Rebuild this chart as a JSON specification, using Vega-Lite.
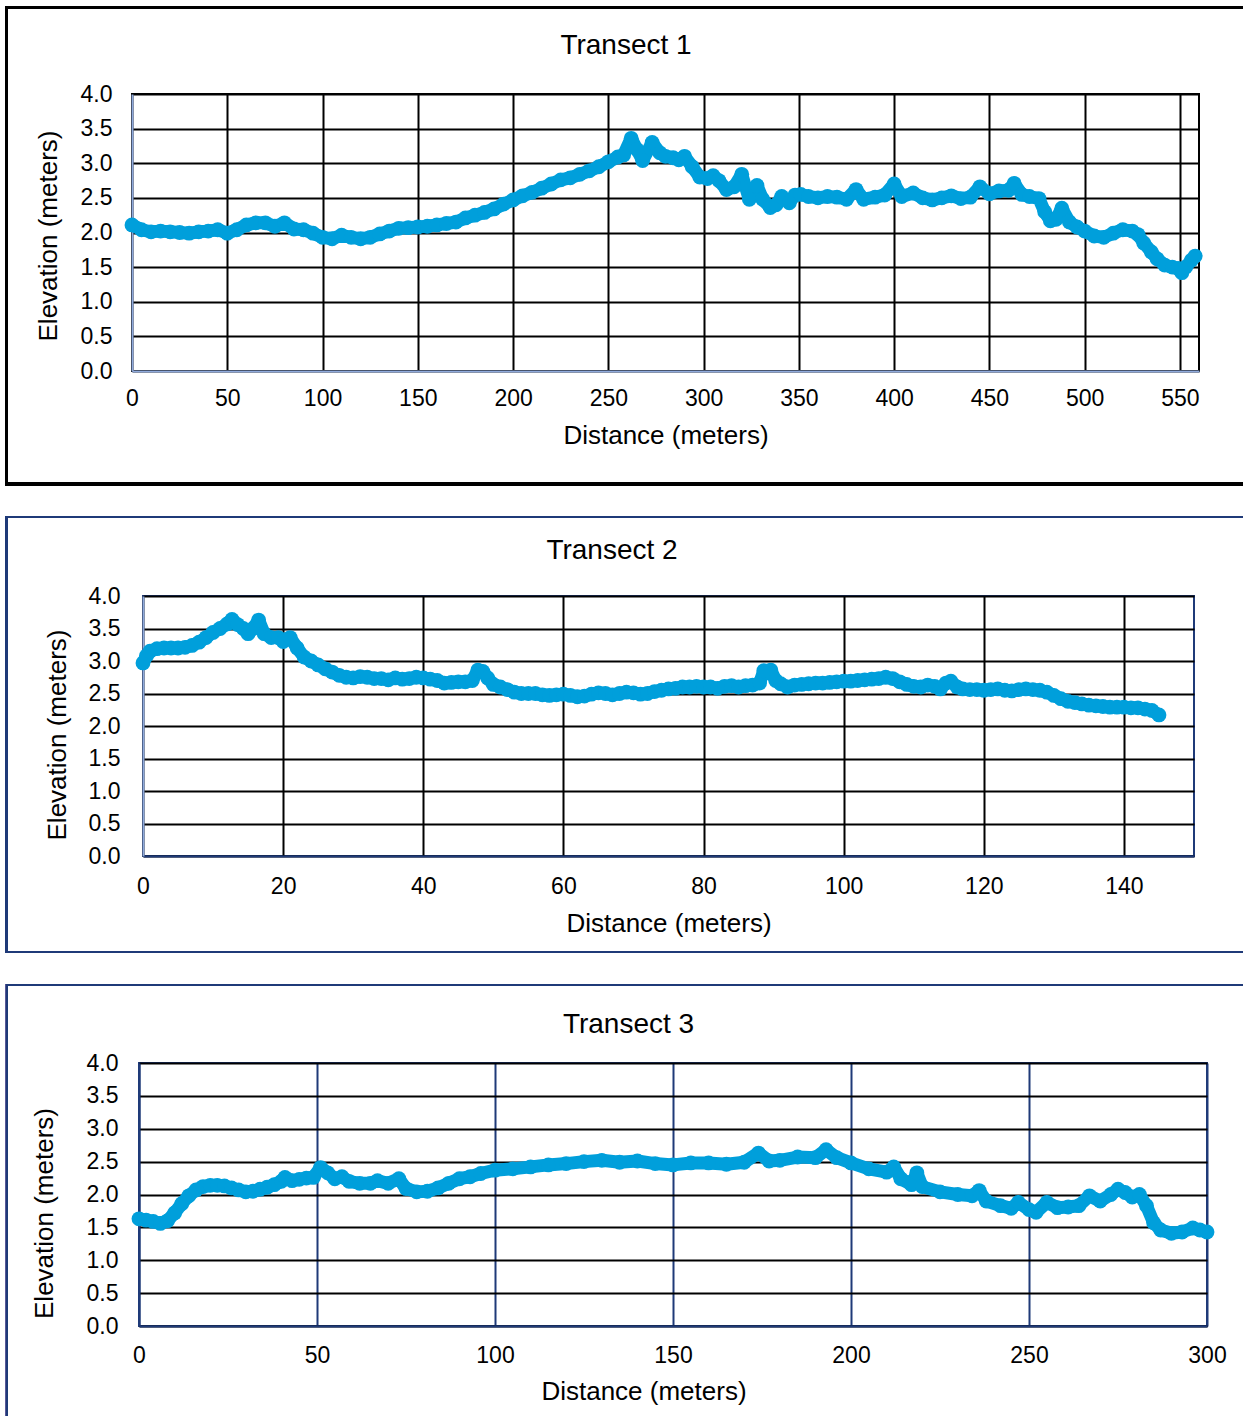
{
  "$schema": "https://vega.github.io/schema/vega-lite/v6.json",
  "background": "white",
  "padding": {"left": 3, "top": 5, "right": 0, "bottom": 0},
  "config": {
    "font": "Liberation Sans",
    "view": {"stroke": null},
    "axis": {
      "labelFont": "Liberation Sans", "labelFontSize": 23, "labelColor": "#000000",
      "titleFont": "Liberation Sans", "titleFontSize": 26, "titleFontWeight": "normal", "titleColor": "#000000",
      "ticks": false, "tickSize": 0, "labelFlush": false, "labelOverlap": false,
      "grid": true, "gridColor": "#000000", "gridWidth": 2, "gridOpacity": 1,
      "domain": true, "domainWidth": 2
    }
  },
  "datasets": {
    "t1": [
      {"d":0,"e":2.11},{"d":5,"e":2.04},{"d":10,"e":2.01},{"d":15,"e":2.02},{"d":20,"e":2.01},{"d":25,"e":2.0},{"d":30,"e":1.99},{"d":35,"e":2.01},{"d":40,"e":2.02},{"d":45,"e":2.04},{"d":50,"e":1.99},{"d":55,"e":2.04},{"d":60,"e":2.11},{"d":65,"e":2.14},{"d":70,"e":2.14},{"d":75,"e":2.09},{"d":80,"e":2.14},{"d":85,"e":2.05},{"d":90,"e":2.04},{"d":95,"e":1.99},{"d":100,"e":1.93},{"d":105,"e":1.91},{"d":110,"e":1.96},{"d":115,"e":1.93},{"d":120,"e":1.91},{"d":125,"e":1.93},{"d":130,"e":1.98},{"d":135,"e":2.02},{"d":140,"e":2.06},{"d":145,"e":2.07},{"d":150,"e":2.08},{"d":155,"e":2.09},{"d":160,"e":2.11},{"d":165,"e":2.13},{"d":170,"e":2.15},{"d":175,"e":2.21},{"d":180,"e":2.25},{"d":185,"e":2.29},{"d":190,"e":2.34},{"d":195,"e":2.41},{"d":200,"e":2.47},{"d":205,"e":2.53},{"d":210,"e":2.58},{"d":215,"e":2.64},{"d":220,"e":2.7},{"d":225,"e":2.76},{"d":230,"e":2.79},{"d":235,"e":2.84},{"d":240,"e":2.89},{"d":245,"e":2.95},{"d":250,"e":3.02},{"d":255,"e":3.09},{"d":258,"e":3.12},{"d":262,"e":3.36},{"d":265,"e":3.2},{"d":268,"e":3.04},{"d":273,"e":3.3},{"d":277,"e":3.15},{"d":280,"e":3.1},{"d":284,"e":3.08},{"d":287,"e":3.05},{"d":290,"e":3.1},{"d":294,"e":2.95},{"d":298,"e":2.8},{"d":302,"e":2.78},{"d":305,"e":2.82},{"d":308,"e":2.75},{"d":312,"e":2.62},{"d":316,"e":2.66},{"d":320,"e":2.84},{"d":324,"e":2.48},{"d":328,"e":2.68},{"d":331,"e":2.48},{"d":335,"e":2.36},{"d":338,"e":2.4},{"d":341,"e":2.52},{"d":345,"e":2.43},{"d":348,"e":2.54},{"d":351,"e":2.55},{"d":355,"e":2.52},{"d":360,"e":2.5},{"d":365,"e":2.52},{"d":370,"e":2.51},{"d":375,"e":2.48},{"d":380,"e":2.62},{"d":384,"e":2.48},{"d":390,"e":2.51},{"d":395,"e":2.54},{"d":400,"e":2.7},{"d":404,"e":2.52},{"d":410,"e":2.57},{"d":415,"e":2.5},{"d":420,"e":2.47},{"d":425,"e":2.5},{"d":430,"e":2.53},{"d":435,"e":2.49},{"d":440,"e":2.51},{"d":445,"e":2.66},{"d":450,"e":2.56},{"d":455,"e":2.6},{"d":460,"e":2.61},{"d":463,"e":2.71},{"d":467,"e":2.55},{"d":471,"e":2.52},{"d":476,"e":2.49},{"d":479,"e":2.3},{"d":482,"e":2.17},{"d":485,"e":2.19},{"d":488,"e":2.35},{"d":492,"e":2.15},{"d":496,"e":2.08},{"d":500,"e":2.02},{"d":505,"e":1.95},{"d":510,"e":1.93},{"d":515,"e":1.99},{"d":520,"e":2.04},{"d":525,"e":2.02},{"d":528,"e":1.97},{"d":531,"e":1.85},{"d":535,"e":1.72},{"d":538,"e":1.62},{"d":542,"e":1.53},{"d":546,"e":1.5},{"d":549,"e":1.48},{"d":551,"e":1.42},{"d":553,"e":1.5},{"d":556,"e":1.6},{"d":558,"e":1.66}
    ],
    "t2": [
      {"d":0,"e":2.97},{"d":0.5,"e":3.08},{"d":1,"e":3.15},{"d":2,"e":3.19},{"d":3,"e":3.2},{"d":4,"e":3.2},{"d":5,"e":3.2},{"d":6,"e":3.21},{"d":7,"e":3.24},{"d":8,"e":3.29},{"d":9,"e":3.36},{"d":10,"e":3.44},{"d":11,"e":3.5},{"d":12,"e":3.57},{"d":12.7,"e":3.64},{"d":13.5,"e":3.56},{"d":14.3,"e":3.5},{"d":15,"e":3.42},{"d":15.7,"e":3.5},{"d":16.5,"e":3.63},{"d":17.3,"e":3.42},{"d":18.3,"e":3.36},{"d":19.3,"e":3.36},{"d":20,"e":3.3},{"d":21,"e":3.36},{"d":22,"e":3.2},{"d":23,"e":3.06},{"d":24,"e":3.0},{"d":25,"e":2.94},{"d":26,"e":2.88},{"d":27,"e":2.83},{"d":28,"e":2.78},{"d":29,"e":2.75},{"d":30,"e":2.74},{"d":31,"e":2.76},{"d":32,"e":2.75},{"d":33,"e":2.73},{"d":34,"e":2.73},{"d":35,"e":2.71},{"d":36,"e":2.74},{"d":37,"e":2.72},{"d":38,"e":2.73},{"d":39,"e":2.75},{"d":40,"e":2.74},{"d":41,"e":2.72},{"d":42,"e":2.7},{"d":43,"e":2.66},{"d":44,"e":2.67},{"d":45,"e":2.68},{"d":46,"e":2.68},{"d":47,"e":2.7},{"d":47.8,"e":2.86},{"d":48.5,"e":2.84},{"d":49.2,"e":2.74},{"d":50,"e":2.64},{"d":51,"e":2.6},{"d":52,"e":2.56},{"d":53,"e":2.52},{"d":54,"e":2.5},{"d":55,"e":2.5},{"d":56,"e":2.5},{"d":57,"e":2.48},{"d":58,"e":2.47},{"d":59,"e":2.48},{"d":60,"e":2.49},{"d":61,"e":2.47},{"d":62,"e":2.45},{"d":63,"e":2.46},{"d":64,"e":2.49},{"d":65,"e":2.51},{"d":66,"e":2.5},{"d":67,"e":2.48},{"d":68,"e":2.5},{"d":69,"e":2.52},{"d":70,"e":2.51},{"d":71,"e":2.49},{"d":72,"e":2.5},{"d":73,"e":2.53},{"d":74,"e":2.55},{"d":75,"e":2.57},{"d":76,"e":2.58},{"d":77,"e":2.6},{"d":78,"e":2.6},{"d":79,"e":2.61},{"d":80,"e":2.6},{"d":81,"e":2.6},{"d":82,"e":2.58},{"d":83,"e":2.61},{"d":84,"e":2.62},{"d":85,"e":2.6},{"d":86,"e":2.62},{"d":87,"e":2.63},{"d":88,"e":2.66},{"d":88.6,"e":2.85},{"d":89.6,"e":2.86},{"d":90.3,"e":2.7},{"d":91,"e":2.65},{"d":92,"e":2.6},{"d":93,"e":2.63},{"d":94,"e":2.64},{"d":95,"e":2.65},{"d":96,"e":2.66},{"d":97,"e":2.66},{"d":98,"e":2.67},{"d":99,"e":2.68},{"d":100,"e":2.69},{"d":101,"e":2.69},{"d":102,"e":2.7},{"d":103,"e":2.71},{"d":104,"e":2.72},{"d":105,"e":2.73},{"d":106,"e":2.75},{"d":107,"e":2.73},{"d":108,"e":2.68},{"d":109,"e":2.64},{"d":110,"e":2.61},{"d":111,"e":2.6},{"d":112,"e":2.63},{"d":113,"e":2.61},{"d":113.8,"e":2.57},{"d":114.6,"e":2.66},{"d":115.3,"e":2.69},{"d":116.2,"e":2.6},{"d":117,"e":2.57},{"d":118,"e":2.56},{"d":119,"e":2.56},{"d":120,"e":2.55},{"d":121,"e":2.56},{"d":122,"e":2.57},{"d":123,"e":2.55},{"d":124,"e":2.54},{"d":125,"e":2.56},{"d":126,"e":2.57},{"d":127,"e":2.56},{"d":128,"e":2.55},{"d":129,"e":2.52},{"d":130,"e":2.47},{"d":131,"e":2.42},{"d":132,"e":2.38},{"d":133,"e":2.36},{"d":134,"e":2.34},{"d":135,"e":2.32},{"d":136,"e":2.31},{"d":137,"e":2.3},{"d":138,"e":2.29},{"d":139,"e":2.29},{"d":140,"e":2.29},{"d":141,"e":2.28},{"d":142,"e":2.28},{"d":143,"e":2.26},{"d":144,"e":2.24},{"d":145,"e":2.17}
    ],
    "t3": [
      {"d":0,"e":1.63},{"d":2,"e":1.61},{"d":4,"e":1.59},{"d":6,"e":1.56},{"d":8,"e":1.6},{"d":10,"e":1.72},{"d":12,"e":1.86},{"d":14,"e":1.98},{"d":16,"e":2.07},{"d":18,"e":2.12},{"d":20,"e":2.14},{"d":22,"e":2.14},{"d":24,"e":2.13},{"d":26,"e":2.1},{"d":28,"e":2.07},{"d":30,"e":2.04},{"d":32,"e":2.05},{"d":34,"e":2.08},{"d":36,"e":2.11},{"d":38,"e":2.15},{"d":40,"e":2.2},{"d":41,"e":2.26},{"d":43,"e":2.21},{"d":45,"e":2.23},{"d":47,"e":2.25},{"d":49,"e":2.26},{"d":51,"e":2.41},{"d":53,"e":2.33},{"d":55,"e":2.24},{"d":57,"e":2.27},{"d":59,"e":2.2},{"d":62,"e":2.17},{"d":65,"e":2.17},{"d":67,"e":2.21},{"d":70,"e":2.17},{"d":73,"e":2.24},{"d":75,"e":2.09},{"d":78,"e":2.04},{"d":81,"e":2.05},{"d":84,"e":2.1},{"d":87,"e":2.17},{"d":90,"e":2.24},{"d":93,"e":2.27},{"d":96,"e":2.32},{"d":100,"e":2.37},{"d":105,"e":2.39},{"d":110,"e":2.42},{"d":115,"e":2.45},{"d":120,"e":2.47},{"d":125,"e":2.5},{"d":130,"e":2.52},{"d":135,"e":2.49},{"d":140,"e":2.51},{"d":145,"e":2.47},{"d":150,"e":2.45},{"d":155,"e":2.48},{"d":160,"e":2.48},{"d":165,"e":2.46},{"d":170,"e":2.49},{"d":174,"e":2.63},{"d":177,"e":2.51},{"d":180,"e":2.52},{"d":185,"e":2.57},{"d":190,"e":2.56},{"d":193,"e":2.68},{"d":196,"e":2.56},{"d":200,"e":2.48},{"d":205,"e":2.39},{"d":210,"e":2.34},{"d":212,"e":2.42},{"d":214,"e":2.24},{"d":217,"e":2.15},{"d":218.5,"e":2.33},{"d":220,"e":2.12},{"d":225,"e":2.04},{"d":230,"e":2.0},{"d":234,"e":1.98},{"d":236,"e":2.06},{"d":238,"e":1.9},{"d":242,"e":1.83},{"d":245,"e":1.79},{"d":247,"e":1.88},{"d":250,"e":1.77},{"d":252,"e":1.73},{"d":255,"e":1.88},{"d":258,"e":1.8},{"d":261,"e":1.81},{"d":264,"e":1.83},{"d":267,"e":1.98},{"d":270,"e":1.9},{"d":273,"e":2.0},{"d":275,"e":2.08},{"d":277,"e":2.03},{"d":279,"e":1.96},{"d":281,"e":2.0},{"d":283,"e":1.83},{"d":285,"e":1.57},{"d":287,"e":1.46},{"d":290,"e":1.41},{"d":293,"e":1.43},{"d":296,"e":1.49},{"d":298,"e":1.46},{"d":300,"e":1.43}
    ]
  },
  "spacing": 28,
  "vconcat": [
    {
      "spacing": 0,
      "hconcat": [
        {"width": 1, "height": 1, "data": {"values": [{"k": 0}]}, "mark": {"type": "point", "opacity": 0, "size": 1}, "encoding": {}},
        {
          "width": 1067, "height": 277,
          "view": {"stroke": "#000000", "strokeWidth": 2},
          "title": {"text": "Transect 1", "frame": "group", "anchor": "middle", "baseline": "alphabetic", "offset": -76, "dx": -39.5, "fontSize": 28, "fontWeight": "normal", "font": "Liberation Sans", "color": "#000000"},
          "data": {"name": "t1"},
          "layer": [
            {
              "mark": {"type": "line", "color": "#009FDB", "strokeWidth": 13, "strokeCap": "round", "strokeJoin": "round"},
              "encoding": {
                "x": {"field": "d", "type": "quantitative", "scale": {"domain": [0, 560], "nice": false, "zero": false},
                      "axis": {"values": [0,50,100,150,200,250,300,350,400,450,500,550], "title": "Distance (meters)", "domainColor": "#8FAADC", "labelPadding": 16, "titlePadding": 12}},
                "y": {"field": "e", "type": "quantitative", "scale": {"domain": [0, 4], "nice": false},
                      "axis": {"values": [0,0.5,1,1.5,2,2.5,3,3.5,4], "format": ".1f", "title": "Elevation (meters)", "domainColor": "#8FAADC", "labelPadding": 20, "titlePadding": 19, "titleY": 141.5}}
              }
            },
            {
              "mark": {"type": "point", "filled": true, "color": "#009FDB", "size": 220, "opacity": 1},
              "encoding": {
                "x": {"field": "d", "type": "quantitative",
                      "axis": {"values": [0,50,100,150,200,250,300,350,400,450,500,550], "title": "Distance (meters)", "domainColor": "#8FAADC", "labelPadding": 16, "titlePadding": 12}},
                "y": {"field": "e", "type": "quantitative",
                      "axis": {"values": [0,0.5,1,1.5,2,2.5,3,3.5,4], "format": ".1f", "title": "Elevation (meters)", "domainColor": "#8FAADC", "labelPadding": 20, "titlePadding": 19, "titleY": 141.5}}
              }
            },
            {
              "mark": {"type": "rect", "fill": "#ffffff", "fillOpacity": 0, "stroke": "#000000", "strokeWidth": 2.5},
              "encoding": {
                "x": {"datum": -65.9, "type": "quantitative",
                      "axis": {"values": [0,50,100,150,200,250,300,350,400,450,500,550], "title": "Distance (meters)", "domainColor": "#8FAADC", "labelPadding": 16, "titlePadding": 12}},
                "x2": {"datum": 588},
                "y": {"datum": 5.249, "type": "quantitative",
                      "axis": {"values": [0,0.5,1,1.5,2,2.5,3,3.5,4], "format": ".1f", "title": "Elevation (meters)", "domainColor": "#8FAADC", "labelPadding": 20, "titlePadding": 19, "titleY": 141.5}},
                "y2": {"datum": -1.632}
              }
            }
          ]
        }
      ]
    },
    {
      "spacing": 0,
      "hconcat": [
        {"width": 1, "height": 1, "data": {"values": [{"k": 0}]}, "mark": {"type": "point", "opacity": 0, "size": 1}, "encoding": {}},
        {
          "width": 1051, "height": 260,
          "view": {"stroke": "#1F3A78", "strokeWidth": 2},
          "title": {"text": "Transect 2", "frame": "group", "anchor": "middle", "baseline": "alphabetic", "offset": -71, "dx": -56.5, "fontSize": 28, "fontWeight": "normal", "font": "Liberation Sans", "color": "#000000"},
          "data": {"name": "t2"},
          "layer": [
            {
              "mark": {"type": "line", "color": "#009FDB", "strokeWidth": 13, "strokeCap": "round", "strokeJoin": "round"},
              "encoding": {
                "x": {"field": "d", "type": "quantitative", "scale": {"domain": [0, 150], "nice": false, "zero": false},
                      "axis": {"values": [0,20,40,60,80,100,120,140], "title": "Distance (meters)", "domainColor": "#1F3A78", "labelPadding": 19, "titlePadding": 12}},
                "y": {"field": "e", "type": "quantitative", "scale": {"domain": [0, 4], "nice": false},
                      "axis": {"values": [0,0.5,1,1.5,2,2.5,3,3.5,4], "format": ".1f", "title": "Elevation (meters)", "domainColor": "#8FAADC", "labelPadding": 23, "titlePadding": 18, "titleY": 138.5}}
              }
            },
            {
              "mark": {"type": "point", "filled": true, "color": "#009FDB", "size": 220, "opacity": 1},
              "encoding": {
                "x": {"field": "d", "type": "quantitative",
                      "axis": {"values": [0,20,40,60,80,100,120,140], "title": "Distance (meters)", "domainColor": "#1F3A78", "labelPadding": 19, "titlePadding": 12}},
                "y": {"field": "e", "type": "quantitative",
                      "axis": {"values": [0,0.5,1,1.5,2,2.5,3,3.5,4], "format": ".1f", "title": "Elevation (meters)", "domainColor": "#8FAADC", "labelPadding": 23, "titlePadding": 18, "titleY": 138.5}}
              }
            },
            {
              "mark": {"type": "rect", "fill": "#ffffff", "fillOpacity": 0, "stroke": "#1F3A78", "strokeWidth": 2},
              "encoding": {
                "x": {"datum": -19.48, "type": "quantitative",
                      "axis": {"values": [0,20,40,60,80,100,120,140], "title": "Distance (meters)", "domainColor": "#1F3A78", "labelPadding": 19, "titlePadding": 12}},
                "x2": {"datum": 158},
                "y": {"datum": 5.215, "type": "quantitative",
                      "axis": {"values": [0,0.5,1,1.5,2,2.5,3,3.5,4], "format": ".1f", "title": "Elevation (meters)", "domainColor": "#8FAADC", "labelPadding": 23, "titlePadding": 18, "titleY": 138.5}},
                "y2": {"datum": -1.477}
              }
            }
          ]
        }
      ]
    },
    {
      "spacing": 0,
      "hconcat": [
        {"width": 1, "height": 1, "data": {"values": [{"k": 0}]}, "mark": {"type": "point", "opacity": 0, "size": 1}, "encoding": {}},
        {
          "width": 1068, "height": 263,
          "view": {"stroke": "#1F3A78", "strokeWidth": 2},
          "title": {"text": "Transect 3", "frame": "group", "anchor": "middle", "baseline": "alphabetic", "offset": -77, "dx": -44.5, "fontSize": 28, "fontWeight": "normal", "font": "Liberation Sans", "color": "#000000"},
          "data": {"name": "t3"},
          "layer": [
            {
              "mark": {"type": "line", "color": "#009FDB", "strokeWidth": 13, "strokeCap": "round", "strokeJoin": "round"},
              "encoding": {
                "x": {"field": "d", "type": "quantitative", "scale": {"domain": [0, 300], "nice": false, "zero": false},
                      "axis": {"values": [0,50,100,150,200,250,300], "title": "Distance (meters)", "domainColor": "#1F3A78", "gridColor": "#1F3A78", "labelPadding": 18, "titlePadding": 11, "titleX": 504.5}},
                "y": {"field": "e", "type": "quantitative", "scale": {"domain": [0, 4], "nice": false},
                      "axis": {"values": [0,0.5,1,1.5,2,2.5,3,3.5,4], "format": ".1f", "title": "Elevation (meters)", "domainColor": "#1F3A78", "labelPadding": 21, "titlePadding": 29, "titleY": 150}}
              }
            },
            {
              "mark": {"type": "point", "filled": true, "color": "#009FDB", "size": 220, "opacity": 1},
              "encoding": {
                "x": {"field": "d", "type": "quantitative",
                      "axis": {"values": [0,50,100,150,200,250,300], "title": "Distance (meters)", "domainColor": "#1F3A78", "gridColor": "#1F3A78", "labelPadding": 18, "titlePadding": 11, "titleX": 504.5}},
                "y": {"field": "e", "type": "quantitative",
                      "axis": {"values": [0,0.5,1,1.5,2,2.5,3,3.5,4], "format": ".1f", "title": "Elevation (meters)", "domainColor": "#1F3A78", "labelPadding": 21, "titlePadding": 29, "titleY": 150}}
              }
            },
            {
              "mark": {"type": "rect", "fill": "#ffffff", "fillOpacity": 0, "stroke": "#1F3A78", "strokeWidth": 2},
              "encoding": {
                "x": {"datum": -37.08, "type": "quantitative",
                      "axis": {"values": [0,50,100,150,200,250,300], "title": "Distance (meters)", "domainColor": "#1F3A78", "gridColor": "#1F3A78", "labelPadding": 18, "titlePadding": 11, "titleX": 504.5}},
                "x2": {"datum": 312.4},
                "y": {"datum": 5.186, "type": "quantitative",
                      "axis": {"values": [0,0.5,1,1.5,2,2.5,3,3.5,4], "format": ".1f", "title": "Elevation (meters)", "domainColor": "#1F3A78", "labelPadding": 21, "titlePadding": 29, "titleY": 150}},
                "y2": {"datum": -1.627}
              }
            }
          ]
        }
      ]
    }
  ]
}
